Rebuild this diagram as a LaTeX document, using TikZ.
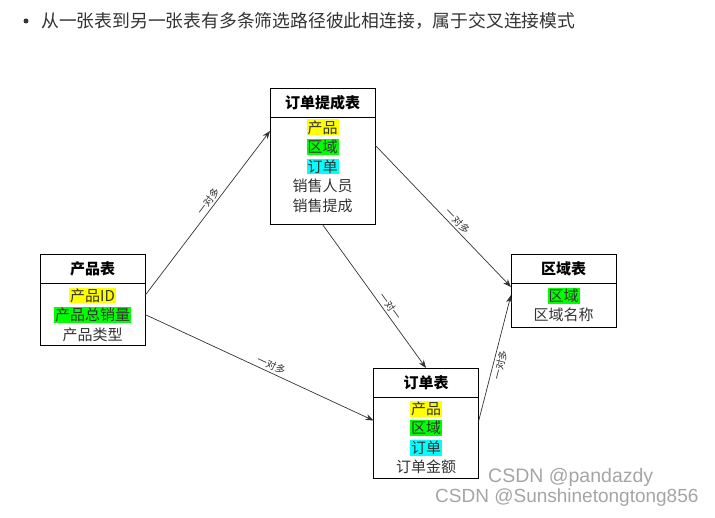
\documentclass[tikz,border=0pt]{standalone}
\usepackage{fontspec}
\setmainfont{Noto Sans CJK SC}
\newfontfamily\wmfont{Liberation Sans}
\usetikzlibrary{positioning,arrows.meta}

\definecolor{hlyellow}{RGB}{255,255,0}
\definecolor{hlgreen}{RGB}{0,255,0}
\definecolor{hlcyan}{RGB}{0,255,255}
\definecolor{txtgray}{RGB}{51,51,51}
\definecolor{wmgray}{RGB}{165,165,165}

\setlength{\fboxsep}{1pt}
\newcommand{\hly}[1]{\colorbox{hlyellow}{#1}}
\newcommand{\hlg}[1]{\colorbox{hlgreen}{#1}}
\newcommand{\hlc}[1]{\colorbox{hlcyan}{#1}}

\begin{document}
\begin{tikzpicture}[x=1pt,y=-1pt,
	tblhead/.style={draw=black, line width=0.8pt, minimum width=105pt, minimum height=29pt,
		inner sep=0pt, outer sep=0pt, font=\fontsize{15}{18}\selectfont\bfseries},
	tblbody/.style={draw=black, line width=0.8pt, minimum width=105pt, inner sep=0pt,
		outer sep=0pt, align=center, text=txtgray, font=\fontsize{15}{19.5}\selectfont},
	rel/.style={draw=txtgray, line width=0.7pt, -{Stealth[length=8pt,width=6pt]}},
	rellabel/.style={sloped, inner sep=2pt, text=txtgray, font=\fontsize{10}{10}\selectfont}]
	\useasboundingbox (0,0) rectangle (715,518);

	% intro line
	\node[circle, fill=txtgray, inner sep=0pt, minimum size=5pt] (dot) at (26,21) {};
	\node[anchor=west, inner sep=0pt, text=txtgray, font=\fontsize{17.8}{20}\selectfont]
		(intro) at (41,21) {从一张表到另一张表有多条筛选路径彼此相连接，属于交叉连接模式};

	% tables
	\node[tblhead] (tch) at (322.5,103) {订单提成表};
	\node[tblbody, minimum height=107pt, below=0pt of tch] (tcb)
		{\hly{产品}\\ \hlg{区域}\\ \hlc{订单}\\ 销售人员\\ 销售提成\\[-8pt]};

	\node[tblhead] (cph) at (92.5,269) {产品表};
	\node[tblbody, minimum height=62pt, below=0pt of cph] (cpb)
		{\hly{产品ID}\\ \hlg{产品总销量}\\ 产品类型};

	\node[tblhead] (qyh) at (563.5,268.5) {区域表};
	\node[tblbody, minimum height=44pt, below=0pt of qyh] (qyb)
		{\hlg{区域}\\ 区域名称};

	\node[tblhead] (ddh) at (426,382.5) {订单表};
	\node[tblbody, minimum height=81pt, below=0pt of ddh] (ddb)
		{\hly{产品}\\ \hlg{区域}\\ \hlc{订单}\\ 订单金额};

	% relations
	\draw[rel] ([yshift=19pt]cpb.east) -- node[rellabel, above, pos=0.55] {一对多} ([yshift=40pt]tcb.west);
	\draw[rel] (cpb.east) -- node[rellabel, above, pos=0.54] {一对多} ([yshift=17pt]ddb.west);
	\draw[rel] ([yshift=26pt]tcb.east) -- node[rellabel, above, pos=0.57] {一对多} ([yshift=18pt]qyb.west);
	\draw[rel] (tcb.south) -- node[rellabel, above, pos=0.6] {一对一} (ddh.north);
	\draw[rel] ([yshift=16pt]ddb.east) -- node[rellabel, below, pos=0.46] {一对多} ([yshift=10pt]qyb.west);

	% watermarks
	\node[anchor=west, inner sep=0pt, text=wmgray, font=\wmfont\fontsize{19.5}{20}\selectfont]
		(wm1) at (488,477) {CSDN @pandazdy};
	\node[anchor=west, inner sep=0pt, text=wmgray, font=\wmfont\fontsize{19}{20}\selectfont]
		(wm2) at (435,498) {CSDN @Sunshinetongtong856};
\end{tikzpicture}
\end{document}
